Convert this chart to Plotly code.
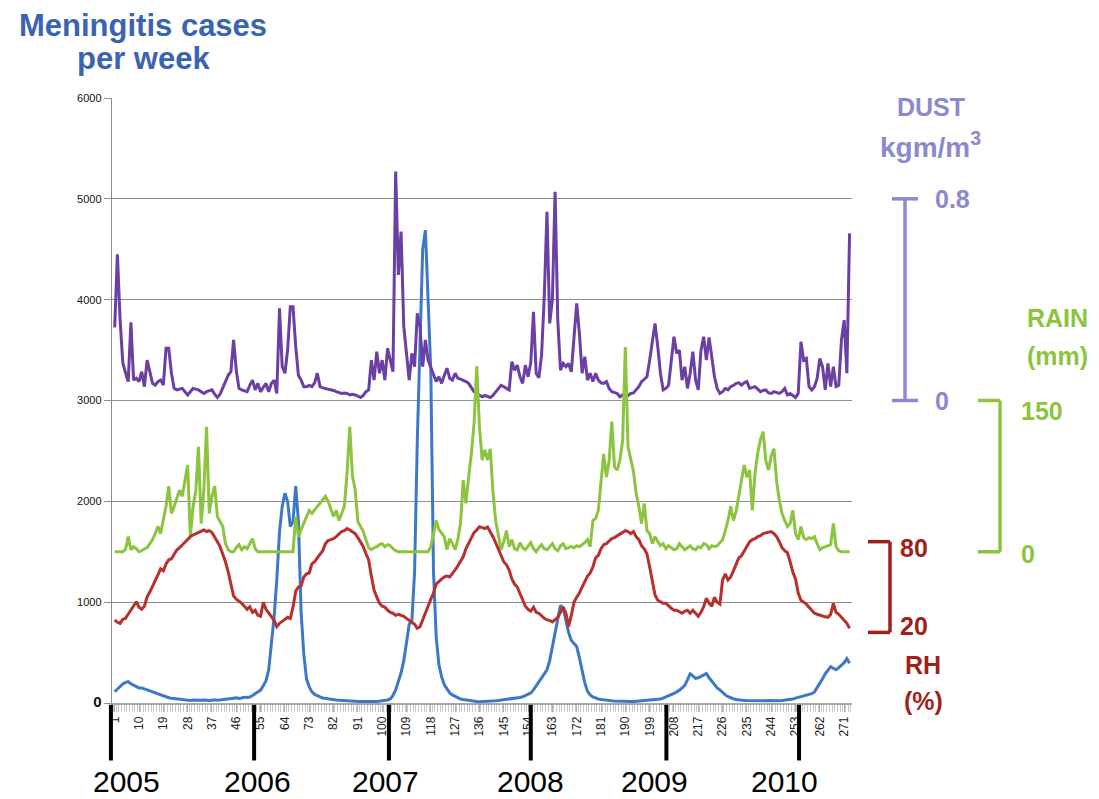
import plotly.graph_objects as go

# ---------------- data (weekly, weeks 1..273) ----------------
weeks = list(range(1, 274))

cases = [
    112, 140, 170, 190, 205, 211, 190, 175, 165, 150,
    150, 140, 130, 115, 105, 98, 90, 75, 65, 58,
    52, 48, 45, 40, 35, 32, 30, 28, 25, 30,
    27, 25, 28, 30, 26, 24, 28, 32, 27, 30,
    35, 32, 38, 42, 48, 52, 45, 50, 58, 55,
    60, 75, 90, 110, 128, 170, 220, 330, 560, 850,
    1220, 1700, 1950, 2080, 2000, 1750, 1800, 2150, 1800, 900,
    480, 240, 160, 110, 85, 70, 60, 50, 45, 40,
    35, 32, 30, 28, 25, 22, 20, 18, 20, 17,
    15, 14, 16, 13, 15, 12, 14, 16, 18, 20,
    25, 30, 40, 75, 130, 210, 300, 420, 620, 780,
    820, 1300, 2600, 3700, 4500, 4690, 4000, 3300, 1300, 650,
    380, 260, 180, 140, 100, 80, 65, 50, 40, 35,
    30, 25, 20, 18, 15, 13, 14, 12, 15, 18,
    20, 22, 25, 28, 30, 35, 38, 42, 45, 48,
    55, 62, 75, 90, 100, 130, 170, 200, 250, 290,
    330, 420, 560, 700, 850, 970, 940, 820, 700, 620,
    590, 560, 450, 330, 200, 115, 80, 60, 48, 40,
    35, 30, 28, 25, 22, 20, 18, 17, 15, 14,
    13, 15, 14, 16, 18, 20, 22, 25, 28, 30,
    32, 35, 40, 48, 58, 68, 80, 95, 110, 125,
    150, 175, 230, 290, 270, 245, 250, 262, 280, 292,
    250, 215, 180, 150, 130, 100, 80, 62, 50, 42,
    35, 30, 28, 26, 25, 24, 22, 23, 22, 21,
    22, 23, 24, 22, 25, 24, 23, 25, 28, 30,
    35, 40, 48, 55, 62, 70, 78, 85, 92, 110,
    150, 195, 240, 290, 330, 360, 345, 330, 350, 375,
    400, 440, 395,
]

dust_kgm3 = [
    0.29, 0.58, 0.32, 0.15, 0.11, 0.075, 0.31, 0.081, 0.088, 0.075,
    0.114, 0.055, 0.16, 0.108, 0.068, 0.061, 0.075, 0.081, 0.061, 0.207,
    0.207, 0.108, 0.048, 0.042, 0.045, 0.048, 0.035, 0.022, 0.035, 0.048,
    0.045, 0.042, 0.035, 0.028, 0.035, 0.038, 0.042, 0.025, 0.012, 0.025,
    0.05, 0.075, 0.10, 0.114, 0.24, 0.12, 0.048, 0.042, 0.038, 0.035,
    0.06, 0.081, 0.042, 0.068, 0.035, 0.05, 0.068, 0.035, 0.068, 0.081,
    0.028, 0.366, 0.134, 0.108, 0.20, 0.372, 0.372, 0.214, 0.10, 0.081,
    0.055, 0.055, 0.06, 0.055, 0.07, 0.108, 0.055, 0.05, 0.048, 0.045,
    0.042, 0.04, 0.035, 0.032, 0.028, 0.03, 0.028, 0.022, 0.025, 0.022,
    0.018, 0.012, 0.02, 0.035, 0.042, 0.16, 0.081, 0.194, 0.108, 0.16,
    0.081, 0.207, 0.16, 0.114, 0.908, 0.498, 0.67, 0.293, 0.187, 0.081,
    0.187, 0.134, 0.346, 0.293, 0.134, 0.24, 0.16, 0.134, 0.108, 0.075,
    0.094, 0.068, 0.10, 0.128, 0.088, 0.081, 0.108, 0.088, 0.085, 0.081,
    0.075, 0.068, 0.05, 0.035, 0.028, 0.022, 0.015, 0.02, 0.015, 0.012,
    0.02, 0.035, 0.045, 0.06, 0.055, 0.05, 0.042, 0.154, 0.12, 0.14,
    0.094, 0.068, 0.14, 0.094, 0.15, 0.352, 0.108, 0.09, 0.18, 0.412,
    0.749, 0.306, 0.399, 0.828, 0.319, 0.12, 0.147, 0.134, 0.147, 0.114,
    0.24, 0.385, 0.266, 0.108, 0.174, 0.081, 0.108, 0.075, 0.108, 0.081,
    0.07, 0.068, 0.075, 0.048, 0.035, 0.03, 0.028, 0.015, 0.022, 0.012,
    0.02, 0.028, 0.03, 0.042, 0.055, 0.075, 0.085, 0.094, 0.16, 0.24,
    0.306, 0.214, 0.108, 0.042, 0.048, 0.06, 0.16, 0.253, 0.187, 0.20,
    0.081, 0.134, 0.048, 0.108, 0.194, 0.081, 0.042, 0.20, 0.253, 0.16,
    0.25, 0.16, 0.094, 0.048, 0.028, 0.035, 0.048, 0.042, 0.055, 0.06,
    0.068, 0.07, 0.061, 0.07, 0.075, 0.048, 0.05, 0.055, 0.045, 0.035,
    0.04, 0.042, 0.03, 0.028, 0.035, 0.03, 0.028, 0.035, 0.048, 0.022,
    0.028, 0.02, 0.012, 0.028, 0.233, 0.16, 0.167, 0.055, 0.042, 0.055,
    0.088, 0.167, 0.134, 0.042, 0.147, 0.055, 0.134, 0.055, 0.06, 0.24,
    0.319, 0.108, 0.663,
]

rain_mm = [
    0, 0, 0, 0, 2, 15, 2, 5, 3, 0,
    1, 3, 4, 8, 12, 18, 25, 18, 32, 45,
    65, 38, 45, 52, 61, 55, 70, 86, 15, 45,
    60, 104, 28, 61, 124, 38, 55, 65, 35, 30,
    25, 8, 2, 0, 0, 4, 7, 2, 5, 3,
    8, 13, 3, 0, 0, 0, 0, 0, 0, 0,
    0, 0, 0, 0, 0, 0, 0, 35, 15, 22,
    28, 35, 41, 38, 42, 45, 48, 51, 55, 50,
    42, 35, 41, 31, 38, 45, 78, 124, 75, 62,
    30, 25, 20, 12, 4, 2, 4, 5, 7, 8,
    5, 7, 6, 3, 1, 0, 0, 0, 0, 0,
    0, 0, 0, 0, 0, 0, 0, 5, 20, 31,
    22, 18, 15, 2, 13, 8, 2, 12, 28, 71,
    48, 74, 97, 127, 184, 124, 91, 101, 91, 102,
    60, 31, 18, 2, 10, 21, 5, 12, 3, 2,
    9, 4, 2, 6, 9, 3, 0, 4, 7, 3,
    2, 5, 8, 3, 1, 6, 8, 3, 4, 5,
    4, 6, 5, 7, 9, 12, 5, 31, 33, 41,
    72, 97, 74, 90, 129, 84, 81, 91, 110, 203,
    104, 91, 80, 58, 45, 28, 48, 21, 18, 8,
    15, 10, 6, 8, 3, 6, 4, 2, 3, 8,
    5, 2, 4, 6, 3, 2, 5, 4, 8, 7,
    3, 6, 5, 6, 9, 12, 21, 31, 45, 31,
    40, 55, 74, 86, 74, 81, 41, 78, 98, 111,
    119, 90, 81, 95, 102, 70, 51, 38, 31, 25,
    28, 41, 18, 12, 25, 14, 12, 14, 13, 15,
    8, 2, 4, 5, 6, 7, 28, 5, 1, 0,
    0, 0, 0,
]

rh_pct = [
    28.2, 26.7, 26.0, 28.7, 29.3, 32.0, 34.8, 36.7, 40.3, 36.7,
    35.3, 37.3, 43.6, 46.7, 50.2, 54.7, 58.0, 62.0, 60.7, 65.3,
    68.0, 68.7, 72.0, 74.5, 76.0, 78.0, 80.0, 82.0, 83.3, 84.4,
    85.3, 86.0, 86.7, 87.7, 86.7, 87.3, 86.0, 83.3, 80.0, 76.7,
    72.0, 66.7, 60.0, 52.7, 44.0, 42.0, 40.7, 39.3, 37.3, 35.3,
    37.0, 33.3, 34.7, 31.3, 30.7, 40.0, 35.3, 32.7, 30.7, 28.0,
    23.8, 26.0, 27.3, 28.7, 30.0, 29.3, 36.7, 47.3, 50.0, 50.7,
    56.7, 58.7, 59.3, 65.3, 66.7, 69.3, 72.0, 74.0, 78.7, 80.7,
    81.3, 82.0, 83.3, 85.3, 86.7, 87.3, 88.7, 87.7, 86.7, 85.3,
    82.7, 80.0, 76.7, 72.0, 67.9, 57.3, 48.0, 43.3, 39.3, 37.3,
    36.7, 34.7, 33.3, 32.7, 31.3, 32.0, 31.3, 30.7, 29.3, 28.2,
    26.7, 25.3, 22.7, 23.7, 28.0, 32.0, 37.3, 42.0, 46.0, 52.0,
    54.0, 55.3, 56.7, 57.3, 56.7, 58.7, 61.3, 64.0, 66.7, 70.0,
    75.3, 78.7, 82.7, 86.0, 87.7, 89.9, 89.3, 88.7, 89.7, 86.7,
    83.3, 79.3, 75.3, 70.7, 66.7, 64.7, 61.3, 55.3, 52.0, 50.0,
    46.0, 41.3, 37.3, 35.3, 34.0, 36.7, 33.3, 32.7, 30.7, 29.3,
    28.3, 28.0, 27.0, 28.2, 30.0, 33.3, 36.7, 32.7, 24.0, 31.3,
    40.0, 43.3, 46.0, 50.0, 54.0, 57.3, 59.3, 63.3, 69.3, 71.0,
    75.3, 78.0, 78.7, 80.7, 82.0, 82.7, 84.0, 85.3, 86.0, 87.3,
    86.7, 85.3, 86.7, 83.3, 81.3, 77.3, 75.3, 72.0, 63.3, 52.7,
    44.7, 41.3, 40.0, 39.3, 39.3, 37.3, 36.0, 34.7, 34.7, 33.7,
    32.7, 34.0, 34.7, 32.7, 34.7, 32.7, 30.7, 33.3, 37.0, 42.7,
    39.3, 37.3, 43.3, 40.0, 38.7, 54.7, 58.7, 54.7, 56.7, 60.7,
    65.3, 69.3, 70.7, 74.0, 77.3, 80.0, 81.3, 82.0, 83.3, 84.0,
    85.3, 85.7, 86.0, 86.7, 85.3, 83.3, 80.0, 76.0, 74.0, 72.7,
    66.7, 60.0, 55.3, 46.0, 41.3, 40.0, 38.7, 36.7, 34.7, 32.7,
    32.0, 31.3, 30.7, 30.3, 30.0, 32.0, 39.2, 33.3, 32.0, 30.0,
    28.7, 26.0, 22.7,
]

tick_weeks = list(range(1, 272, 9))
year_labels = ["2005", "2006", "2007", "2008", "2009", "2010"]
year_start_week = [-0.4, 52.6, 102.5, 155.0, 205.2, 254.3]

left_ticks = [0, 1000, 2000, 3000, 4000, 5000, 6000]
dust_scale = [0, 0.8]
rain_scale = [0, 150]
rh_scale = [20, 80]

# ---------------- styling ----------------
FONT = "Liberation Sans, Arial, sans-serif"
C_CASES = "#3d78c6"
C_DUST = "#6b3fa3"
C_RAIN = "#8cc43f"
C_RH = "#b8302c"
C_TITLE = "#3b63b3"
C_DUST_TXT = "#8c89cf"
C_RAIN_TXT = "#8cc43f"
C_RH_TXT = "#a11f1c"

W, H = 1099, 799
ML, MR, MT, MB = 112, 247, 98, 96
PW = W - ML - MR
XR = [0, 273.9]


def wk_paper(w):
    return (w - XR[0]) / (XR[1] - XR[0])


def px_paper(px):
    return (px - ML) / PW


fig = go.Figure()
fig.add_trace(go.Scatter(x=weeks, y=dust_kgm3, yaxis="y2", mode="lines",
                         line=dict(color=C_DUST, width=3), name="Dust"))
fig.add_trace(go.Scatter(x=weeks, y=rain_mm, yaxis="y3", mode="lines",
                         line=dict(color=C_RAIN, width=3), name="Rain"))
fig.add_trace(go.Scatter(x=weeks, y=rh_pct, yaxis="y4", mode="lines",
                         line=dict(color=C_RH, width=3), name="RH"))
fig.add_trace(go.Scatter(x=weeks, y=cases, yaxis="y", mode="lines",
                         line=dict(color=C_CASES, width=3), name="Cases"))

left_text = [("<span style='font-size:15px'><b>%d</b></span>" % v) if v == 0 else str(v)
             for v in left_ticks]

fig.update_layout(
    width=W, height=H,
    margin=dict(l=ML, r=MR, t=MT, b=MB, pad=0),
    paper_bgcolor="white", plot_bgcolor="white",
    showlegend=False,
    font=dict(family=FONT, color="#111"),
    xaxis=dict(range=XR, tickmode="array", tickvals=tick_weeks,
               ticktext=[str(t) for t in tick_weeks], tickangle=-90,
               tickfont=dict(size=12, color="#222", family=FONT),
               showgrid=False, zeroline=False,
               showline=True, linecolor="#a8a8a8", linewidth=1.5,
               ticks="outside", ticklen=7, tickcolor="#b0b0b0", tickwidth=1,
               minor=dict(dtick=1, tick0=0.5, ticks="outside", ticklen=7,
                          tickcolor="#c8c8c8", tickwidth=1)),
    yaxis=dict(range=[0, 6000], tickmode="array", tickvals=left_ticks,
               ticktext=left_text, tickfont=dict(size=11, color="#111", family=FONT),
               showgrid=True, gridcolor="#8e8e8e", gridwidth=1.4,
               zeroline=False, showline=True, linecolor="#8e8e8e", linewidth=1.4,
               ticks="outside", ticklen=7, tickcolor="#8e8e8e", tickwidth=1.4),
    yaxis2=dict(range=[-1.2, 1.2], overlaying="y", visible=False),
    yaxis3=dict(range=[-150, 450], overlaying="y", visible=False),
    yaxis4=dict(range=[20 - 700 / 15, 20 + 5300 / 15], overlaying="y", visible=False),
)

shapes = []
annotations = []

# year markers and labels
label_px_shift = [16, 3, -3, 0, -12, -15]
for yr, w, dx in zip(year_labels, year_start_week, label_px_shift):
    xp = wk_paper(w)
    shapes.append(dict(type="line", xref="paper", yref="paper", x0=xp, x1=xp,
                       y0=-0.003, y1=-0.095, line=dict(color="black", width=4)))
    annotations.append(dict(text=yr, xref="paper", yref="paper", x=xp, xshift=dx,
                            y=-0.129, yanchor="middle", xanchor="center", showarrow=False,
                            font=dict(family="Liberation Sans Narrow, " + FONT, size=30,
                                      color="black")))

# left title
annotations.append(dict(text="<b>Meningitis cases</b>", xref="paper", yref="paper",
                        x=px_paper(143), y=(703 - 25) / 605, xanchor="center", yanchor="middle",
                        showarrow=False, font=dict(family=FONT, size=31, color=C_TITLE)))
annotations.append(dict(text="<b>per week</b>", xref="paper", yref="paper",
                        x=px_paper(143), y=(703 - 58) / 605, xanchor="center", yanchor="middle",
                        showarrow=False, font=dict(family=FONT, size=31, color=C_TITLE)))


def bracket(yref, lo, hi, px_line, px_cap0, px_cap1, color):
    xl = px_paper(px_line)
    c0, c1 = px_paper(px_cap0), px_paper(px_cap1)
    out = [dict(type="line", xref="paper", yref=yref, x0=xl, x1=xl, y0=lo, y1=hi,
                line=dict(color=color, width=3.5))]
    for v in (lo, hi):
        out.append(dict(type="line", xref="paper", yref=yref, x0=c0, x1=c1, y0=v, y1=v,
                        line=dict(color=color, width=3.5)))
    return out


def label(text, px, y, yref, color, size=25, xanchor="left", yshift=0):
    return dict(text="<b>%s</b>" % text, xref="paper", yref=yref, x=px_paper(px), y=y,
                xanchor=xanchor, yanchor="middle", yshift=yshift, showarrow=False,
                font=dict(family=FONT, size=size, color=color))


# dust scale
shapes += bracket("y2", dust_scale[0], dust_scale[1], 905, 892, 918, C_DUST_TXT)
annotations.append(label("0.8", 933, dust_scale[1], "y2", C_DUST_TXT))
annotations.append(label("0", 933, dust_scale[0], "y2", C_DUST_TXT))
annotations.append(label("DUST", 931, (703 - 107) / 605, "paper", C_DUST_TXT, xanchor="center"))
annotations.append(label("kgm/m<sup>3</sup>", 931, (703 - 145) / 605, "paper", C_DUST_TXT,
                         size=28, xanchor="center"))

# rain scale
shapes += bracket("y3", rain_scale[0], rain_scale[1], 1000, 978, 1000, C_RAIN)
annotations.append(label("150", 1019, rain_scale[1], "y3", C_RAIN_TXT, yshift=-10))
annotations.append(label("0", 1019, rain_scale[0], "y3", C_RAIN_TXT, yshift=-2))
annotations.append(label("RAIN", 1057, (703 - 318) / 605, "paper", C_RAIN_TXT, xanchor="center"))
annotations.append(label("(mm)", 1057, (703 - 356) / 605, "paper", C_RAIN_TXT, xanchor="center"))

# RH scale
shapes += bracket("y4", rh_scale[0], rh_scale[1], 890, 868, 890, C_RH_TXT)
annotations.append(label("80", 898, rh_scale[1], "y4", C_RH_TXT, yshift=-6))
annotations.append(label("20", 898, rh_scale[0], "y4", C_RH_TXT, yshift=6))
annotations.append(label("RH", 923, (703 - 665) / 605, "paper", C_RH_TXT, xanchor="center"))
annotations.append(label("(%)", 923, (703 - 701) / 605, "paper", C_RH_TXT, xanchor="center"))

fig.update_layout(shapes=shapes, annotations=annotations)
fig.write_html("out.html", config={"displayModeBar": False},
               post_script="document.body.style.margin='0px';")
